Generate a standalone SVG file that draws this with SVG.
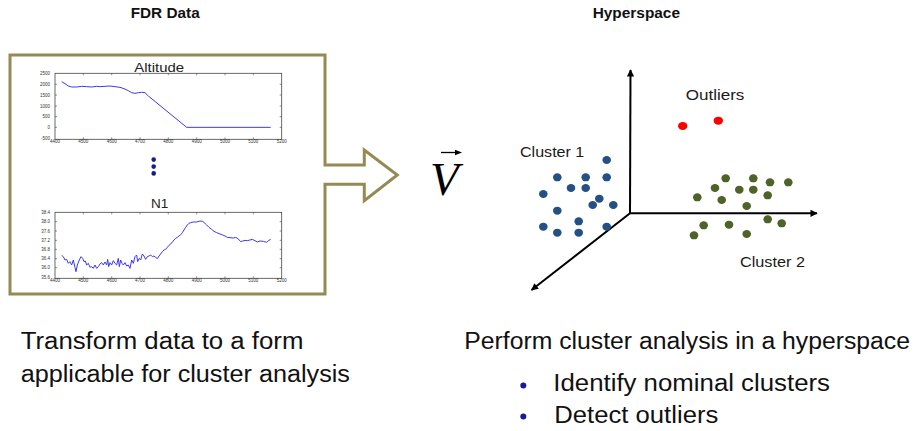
<svg xmlns="http://www.w3.org/2000/svg" width="919" height="431" viewBox="0 0 919 431">
<defs>
<style>
.hdr{font-family:"Liberation Sans",Arial,sans-serif;font-weight:bold;font-size:14px;fill:#111}
.big{font-family:"Liberation Sans",Arial,sans-serif;font-size:23px;fill:#111}
.lbl{font-family:"Liberation Sans",Arial,sans-serif;font-size:14.5px;fill:#1a1a1a}
.ttl{font-family:"Liberation Sans",Arial,sans-serif;font-size:13px;fill:#222}
.tick{font-family:"Liberation Sans",Arial,sans-serif;font-size:4.5px;fill:#333}
.box{fill:#fff;stroke:#444;stroke-width:0.8}
.curve{fill:none;stroke:#3838f0;stroke-width:3;stroke-linejoin:round}
.axis{stroke:#000;stroke-width:2;fill:none}
.tk{stroke:#444;stroke-width:0.6}
.b{fill:#255085}
.g{fill:#4f6228}
.r{fill:#ff0000}
</style>
<marker id="ah" viewBox="0 0 10 10" refX="9" refY="5" markerWidth="4" markerHeight="3.6" orient="auto" markerUnits="strokeWidth">
<path d="M0,0 L10,5 L0,10 z" fill="#000"/>
</marker>
</defs>
<rect width="919" height="431" fill="#fff"/>

<g id="headers">
<text class="hdr" x="130.7" y="18.3" textLength="69" lengthAdjust="spacingAndGlyphs">FDR Data</text>
<text class="hdr" x="592.7" y="18.3" textLength="87.3" lengthAdjust="spacingAndGlyphs">Hyperspace</text>
</g>

<g id="connectors">
<path id="frame-arrow" d="M325,165 V55 H10 V294 H325 V184.3 H364.3 V200.7 L397.3,175 L364.3,150 V165 Z" fill="none" stroke="#948a54" stroke-width="3"/>
<line class="axis" x1="630" y1="213.3" x2="630.5" y2="70" marker-end="url(#ah)"/>
<line class="axis" x1="630" y1="213.3" x2="817" y2="213.3" marker-end="url(#ah)"/>
<line class="axis" x1="630" y1="213.3" x2="531.5" y2="290" marker-end="url(#ah)"/>
</g>

<g id="altitude-plot">
<text class="ttl" x="159.2" y="71.7" text-anchor="middle" textLength="49.7" lengthAdjust="spacingAndGlyphs">Altitude</text>
<rect class="box" x="55" y="73.3" width="226.7" height="66"/>
<g class="tk">
<path d="M55,84.3h2M55,95h2M55,106h2M55,116.7h2M55,127.3h2M281.7,84.3h-2M281.7,95h-2M281.7,106h-2M281.7,116.7h-2M281.7,127.3h-2"/>
<path d="M83.3,73.3v2M111.7,73.3v2M140,73.3v2M168.3,73.3v2M196.7,73.3v2M225,73.3v2M253.3,73.3v2M83.3,139.3v-2M111.7,139.3v-2M140,139.3v-2M168.3,139.3v-2M196.7,139.3v-2M225,139.3v-2M253.3,139.3v-2"/>
</g>
<g class="tick" text-anchor="end">
<text x="50" y="74.8">2500</text>
<text x="50" y="85.8">2000</text>
<text x="50" y="96.5">1500</text>
<text x="50" y="107.5">1000</text>
<text x="50" y="118.2">500</text>
<text x="50" y="128.8">0</text>
<text x="50" y="139.5">-500</text>
</g>
<g class="tick" text-anchor="middle">
<text x="55" y="143">4400</text>
<text x="83.3" y="143">4500</text>
<text x="111.7" y="143">4600</text>
<text x="140" y="143">4700</text>
<text x="168.3" y="143">4800</text>
<text x="196.7" y="143">4900</text>
<text x="225" y="143">5000</text>
<text x="253.3" y="143">5100</text>
<text x="281.7" y="143">5200</text>
</g>
<g transform="translate(0,40) scale(0.33333)">
<path class="curve" d="M185,125 L195,131 L205,138 L215,141 L230,141 L245,139 L260,140 L275,141 L290,139 L300,140 L315,139 L330,138 L345,140 L360,142 L372,146 L385,152 L395,158 L405,160 L415,158 L425,157 L435,158 L445,168 L560,262 L812,262"/>
</g>
</g>

<g id="ellipsis" fill="#1a1a99">
<circle cx="153.7" cy="159.6" r="2.3"/>
<circle cx="153.7" cy="166.6" r="2.3"/>
<circle cx="153.7" cy="173.4" r="2.3"/>
</g>

<g id="n1-plot">
<text class="ttl" x="159.6" y="208.3" text-anchor="middle" textLength="17.3" lengthAdjust="spacingAndGlyphs">N1</text>
<rect class="box" x="55" y="212.3" width="226.7" height="66"/>
<g class="tk">
<path d="M55,221.7h2M55,231h2M55,240.3h2M55,249.3h2M55,258.7h2M55,267.7h2M281.7,221.7h-2M281.7,231h-2M281.7,240.3h-2M281.7,249.3h-2M281.7,258.7h-2M281.7,267.7h-2"/>
<path d="M83.3,212.3v2M111.7,212.3v2M140,212.3v2M168.3,212.3v2M196.7,212.3v2M225,212.3v2M253.3,212.3v2M83.3,278.3v-2M111.7,278.3v-2M140,278.3v-2M168.3,278.3v-2M196.7,278.3v-2M225,278.3v-2M253.3,278.3v-2"/>
</g>
<g class="tick" text-anchor="end">
<text x="50" y="213.8">38.4</text>
<text x="50" y="223.2">38.0</text>
<text x="50" y="232.5">37.6</text>
<text x="50" y="241.8">37.2</text>
<text x="50" y="250.8">36.8</text>
<text x="50" y="260.2">36.4</text>
<text x="50" y="269.2">36.0</text>
<text x="50" y="278.5">35.6</text>
</g>
<g class="tick" text-anchor="middle">
<text x="55" y="282">4400</text>
<text x="83.3" y="282">4500</text>
<text x="111.7" y="282">4600</text>
<text x="140" y="282">4700</text>
<text x="168.3" y="282">4800</text>
<text x="196.7" y="282">4900</text>
<text x="225" y="282">5000</text>
<text x="253.3" y="282">5100</text>
<text x="281.7" y="282">5200</text>
</g>
<g transform="translate(0,150) scale(0.33333)">
<path class="curve" d="M185,316 L190,320 L195,330 L200,328 L205,340 L210,335 L215,345 L220,330 L225,352 L228,365 L232,345 L238,330 L243,320 L248,325 L252,335 L256,333 L260,345 L265,340 L270,352 L275,350 L280,355 L285,345 L290,355 L295,350 L300,342 L305,338 L310,345 L315,336 L320,345 L323,328 L326,350 L330,338 L335,345 L340,332 L345,340 L350,345 L355,325 L358,350 L362,330 L366,340 L370,345 L375,338 L380,348 L385,345 L390,355 L395,330 L400,340 L405,320 L410,315 L413,335 L418,325 L422,330 L427,312 L432,318 L437,328 L442,320 L447,318 L452,315 L457,320 L462,318 L467,322 L472,326 L477,318 L482,312 L487,305 L492,300 L497,298 L502,292 L507,286 L512,282 L517,276 L522,270 L527,265 L532,262 L537,258 L542,254 L547,248 L552,240 L557,232 L562,225 L567,220 L572,218 L580,216 L590,216 L600,213 L608,214 L615,220 L620,225 L627,232 L635,238 L642,244 L650,248 L660,252 L668,255 L675,258 L682,262 L690,263 L700,264 L707,262 L715,267 L722,275 L728,273 L735,271 L742,272 L750,270 L757,268 L765,272 L772,276 L780,273 L790,274 L800,277 L805,272 L812,268"/>
</g>
</g>

<g id="vector-v">
<text x="430" y="195" font-family="'Liberation Serif','Times New Roman',serif" font-style="italic" font-size="47" fill="#000">V</text>
<line x1="441" y1="152.5" x2="458" y2="152.5" stroke="#000" stroke-width="1.3"/>
<path d="M455,149.8 L462,152.5 L455,155.2 Z" fill="#000"/>
</g>

<g id="cluster1">
<text class="lbl" x="520" y="156.7" textLength="64.3" lengthAdjust="spacingAndGlyphs">Cluster 1</text>
<g class="b">
<ellipse cx="606.7" cy="160" rx="4.3" ry="4"/>
<ellipse cx="557.3" cy="177.3" rx="4.3" ry="4"/>
<ellipse cx="585.7" cy="177.3" rx="4.3" ry="4"/>
<ellipse cx="606.7" cy="177.3" rx="4.3" ry="4"/>
<ellipse cx="571" cy="188" rx="4.3" ry="4"/>
<ellipse cx="585.7" cy="188" rx="4.3" ry="4"/>
<ellipse cx="543.3" cy="194" rx="4.3" ry="4"/>
<ellipse cx="599.3" cy="198.7" rx="4.3" ry="4"/>
<ellipse cx="592.7" cy="205" rx="4.3" ry="4"/>
<ellipse cx="613.3" cy="205" rx="4.3" ry="4"/>
<ellipse cx="557.3" cy="210.7" rx="4.3" ry="4"/>
<ellipse cx="578.7" cy="221.3" rx="4.3" ry="4"/>
<ellipse cx="543.3" cy="226.7" rx="4.3" ry="4"/>
<ellipse cx="606.7" cy="226.7" rx="4.3" ry="4"/>
<ellipse cx="557.3" cy="232.7" rx="4.3" ry="4"/>
<ellipse cx="578.7" cy="232.7" rx="4.3" ry="4"/>
</g>
</g>

<g id="cluster2">
<text class="lbl" x="740" y="267.3" textLength="65" lengthAdjust="spacingAndGlyphs">Cluster 2</text>
<g class="g">
<ellipse cx="725.7" cy="178.3" rx="4.3" ry="4"/>
<ellipse cx="753.3" cy="178.3" rx="4.3" ry="4"/>
<ellipse cx="770" cy="182.3" rx="4.3" ry="4"/>
<ellipse cx="788.3" cy="182.3" rx="4.3" ry="4"/>
<ellipse cx="715" cy="188" rx="4.3" ry="4"/>
<ellipse cx="739.3" cy="189.7" rx="4.3" ry="4"/>
<ellipse cx="753.3" cy="189.7" rx="4.3" ry="4"/>
<ellipse cx="697.3" cy="197.3" rx="4.3" ry="4"/>
<ellipse cx="721.7" cy="200" rx="4.3" ry="4"/>
<ellipse cx="767.7" cy="195.3" rx="4.3" ry="4"/>
<ellipse cx="746.7" cy="206" rx="4.3" ry="4"/>
<ellipse cx="767.7" cy="219.3" rx="4.3" ry="4"/>
<ellipse cx="781.7" cy="223.3" rx="4.3" ry="4"/>
<ellipse cx="703.7" cy="225.3" rx="4.3" ry="4"/>
<ellipse cx="729" cy="224.7" rx="4.3" ry="4"/>
<ellipse cx="694" cy="235.3" rx="4.3" ry="4"/>
<ellipse cx="746.7" cy="234" rx="4.3" ry="4"/>
</g>
</g>

<g id="outliers">
<text class="lbl" x="685.7" y="100" textLength="58.7" lengthAdjust="spacingAndGlyphs">Outliers</text>
<ellipse class="r" cx="682.7" cy="126" rx="4.7" ry="4"/>
<ellipse class="r" cx="718.3" cy="120.7" rx="4.7" ry="4"/>
</g>

<g id="captions">
<text class="big" x="20.7" y="349.3" textLength="282.7" lengthAdjust="spacingAndGlyphs">Transform data to a form</text>
<text class="big" x="20.7" y="381.7" textLength="329.3" lengthAdjust="spacingAndGlyphs">applicable for cluster analysis</text>
<text class="big" x="464.3" y="349.3" textLength="445.7" lengthAdjust="spacingAndGlyphs">Perform cluster analysis in a hyperspace</text>
<circle cx="523.3" cy="385.5" r="3" fill="#1a1a99"/>
<text class="big" x="553.3" y="390.5" textLength="276.7" lengthAdjust="spacingAndGlyphs">Identify nominal clusters</text>
<circle cx="523.3" cy="416.5" r="3" fill="#1a1a99"/>
<text class="big" x="554.3" y="422.5" textLength="164" lengthAdjust="spacingAndGlyphs">Detect outliers</text>
</g>
</svg>
